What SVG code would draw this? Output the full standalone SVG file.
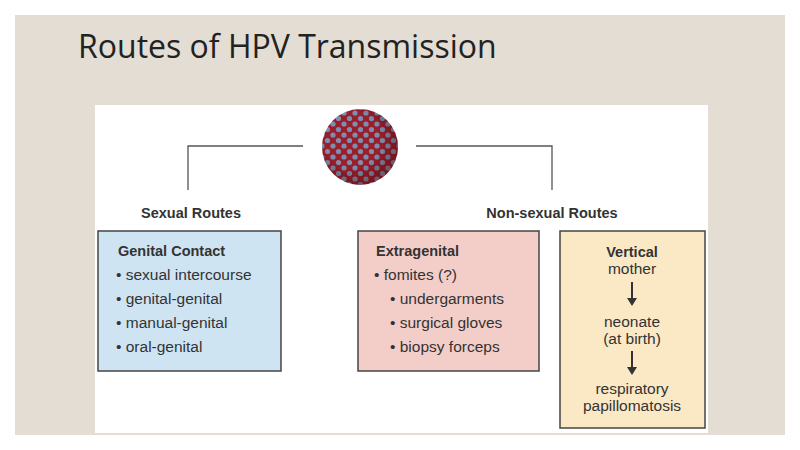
<svg xmlns="http://www.w3.org/2000/svg" width="800" height="450" viewBox="0 0 800 450">
<defs>
<style>
text{font-family:"Liberation Sans",Arial,sans-serif;fill:#333}
.h{font-weight:bold;font-size:14.5px}
.t{font-size:15.5px}
.box{stroke:#444;stroke-width:1.5}
.ln{fill:none;stroke:#555;stroke-width:1.3}
</style>
<pattern id="cap" width="11" height="11" patternUnits="userSpaceOnUse">
<rect width="11" height="11" fill="#9a1f2c"/>
<circle cx="3" cy="3" r="2.6" fill="#7d8fb0"/>
<circle cx="8.5" cy="8.5" r="2.6" fill="#7d8fb0"/>
</pattern>
<radialGradient id="sh" cx="0.4" cy="0.4" r="0.6">
<stop offset="0.6" stop-color="#000" stop-opacity="0"/>
<stop offset="1" stop-color="#400" stop-opacity="0.35"/>
</radialGradient>
</defs>
<rect width="800" height="450" fill="#fff"/>
<rect x="15" y="15" width="770" height="420" fill="#e3ddd3"/>
<text x="78" y="58" style="font-family:'Open Sans','Liberation Sans',sans-serif;font-size:32px;fill:#222">Routes of HPV Transmission</text>
<rect x="95" y="105" width="613" height="328" fill="#fff"/>
<g id="connectors">
<polyline class="ln" points="188,190 188,146 303,146"/>
<polyline class="ln" points="416,146 552,146 552,190"/>
</g>
<g id="virus">
<circle cx="360" cy="147" r="38" fill="url(#cap)"/>
<circle cx="360" cy="147" r="38" fill="url(#sh)"/>
</g>
<g id="sexual-label"><text class="h" x="191" y="218" text-anchor="middle">Sexual Routes</text></g>
<g id="nonsexual-label"><text class="h" x="552" y="218" text-anchor="middle">Non-sexual Routes</text></g>
<g id="genital">
<rect class="box" x="98" y="231" width="183" height="140" fill="#cfe4f2"/>
<text class="h" x="118" y="256">Genital Contact</text>
<text class="t" x="116" y="280">• sexual intercourse</text>
<text class="t" x="116" y="304">• genital-genital</text>
<text class="t" x="116" y="328">• manual-genital</text>
<text class="t" x="116" y="352">• oral-genital</text>
</g>
<g id="extragenital">
<rect class="box" x="358" y="231" width="181" height="140" fill="#f3cec9"/>
<text class="h" x="376" y="256">Extragenital</text>
<text class="t" x="374" y="280">• fomites (?)</text>
<text class="t" x="390" y="304">• undergarments</text>
<text class="t" x="390" y="328">• surgical gloves</text>
<text class="t" x="390" y="352">• biopsy forceps</text>
</g>
<g id="vertical">
<rect class="box" x="560" y="231" width="145" height="197" fill="#fbe9c6"/>
<text class="h" x="632" y="257" text-anchor="middle">Vertical</text>
<text class="t" x="632" y="274" text-anchor="middle">mother</text>
<path d="M632 282V301" stroke="#333" stroke-width="2"/>
<path d="M627 298h10l-5 8z" fill="#333"/>
<text class="t" x="632" y="327" text-anchor="middle">neonate</text>
<text class="t" x="632" y="344" text-anchor="middle">(at birth)</text>
<path d="M632 351V370" stroke="#333" stroke-width="2"/>
<path d="M627 367h10l-5 8z" fill="#333"/>
<text class="t" x="632" y="394" text-anchor="middle">respiratory</text>
<text class="t" x="632" y="411" text-anchor="middle">papillomatosis</text>
</g>
</svg>
